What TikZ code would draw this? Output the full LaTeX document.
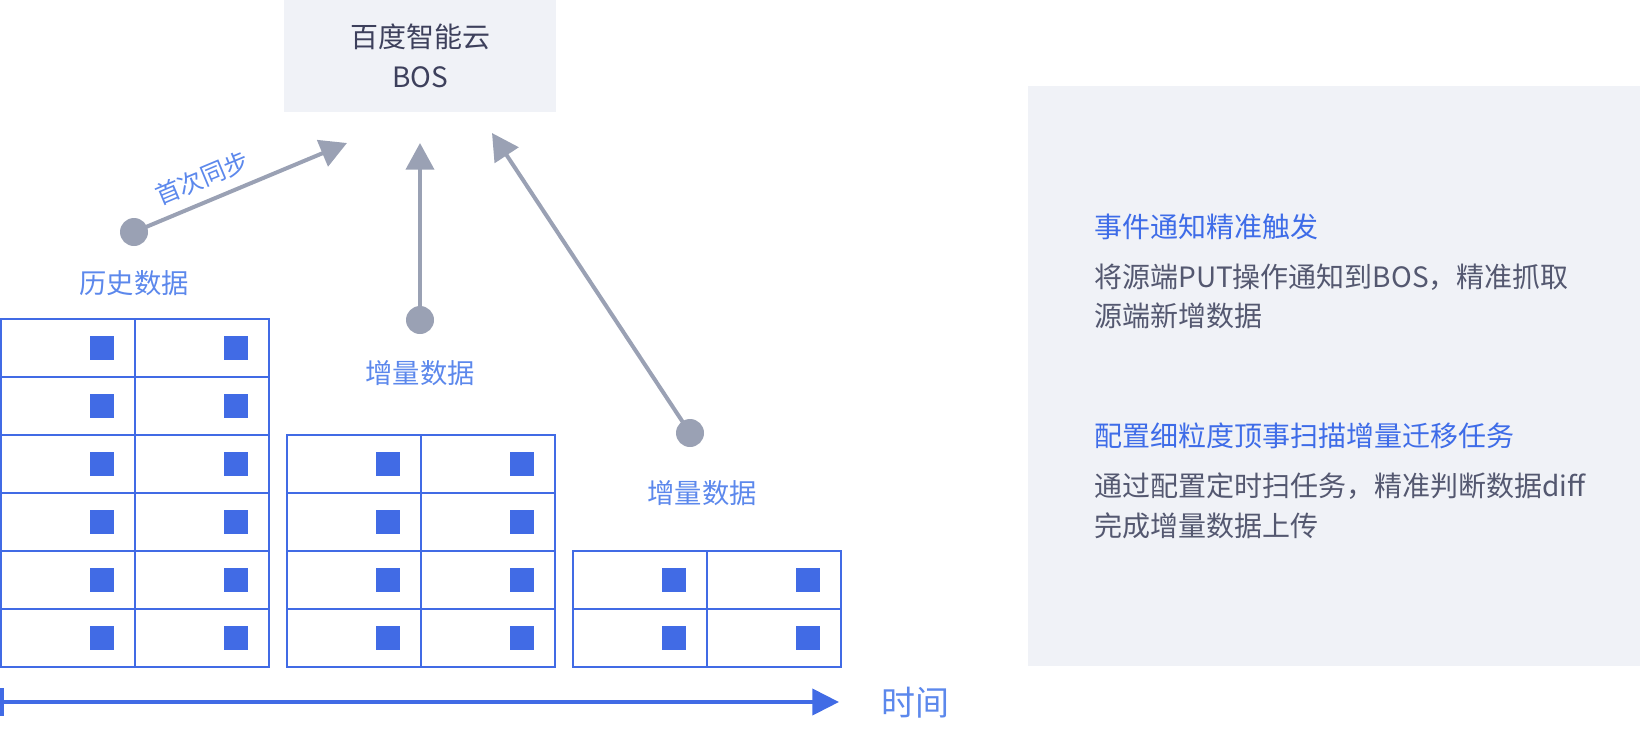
\documentclass[tikz,border=0pt]{standalone}
\usepackage{fontspec}
\setmainfont{Noto Sans CJK SC}
\usetikzlibrary{arrows.meta}
\definecolor{boxfill}{RGB}{240,242,247}
\definecolor{darktext}{RGB}{61,64,92}
\definecolor{arrowgray}{RGB}{154,161,180}
\definecolor{gridblue}{RGB}{65,107,229}
\definecolor{labelblue}{RGB}{92,136,236}
\definecolor{titleblue}{RGB}{62,108,232}
\definecolor{bodygray}{RGB}{84,88,112}
\newcommand\mygrid[3]{%
  \draw[gridline] (#1,#2) rectangle ({#1+268},{#2+58*#3});
  \draw[gridline] ({#1+134},#2) -- ({#1+134},{#2+58*#3});
  \foreach \r in {1,...,#3}{%
    \ifnum\r<#3\relax
      \draw[gridline] (#1,{#2+58*\r}) -- ({#1+268},{#2+58*\r});
    \fi
  }
  \foreach \r in {0,...,\numexpr#3-1\relax}{%
    \foreach \c in {0,1}{%
      \fill[gridblue] ({#1+134*\c+89},{#2+58*\r+17}) rectangle ({#1+134*\c+113},{#2+58*\r+41});
    }
  }
}
\begin{document}
\begin{tikzpicture}[x=0.75pt,y=-0.75pt,
  gridline/.style={draw=gridblue,line width=1.5pt},
  dotnode/.style={circle,fill=arrowgray,minimum size=21pt,inner sep=0pt},
  arrowline/.style={draw=arrowgray,line width=3pt,-{Triangle[length=20pt,width=21pt]}},
  datalabel/.style={text=labelblue,font=\fontsize{20.5}{24}\selectfont,inner sep=0pt},
  paneltitle/.style={text=titleblue,font=\fontsize{21}{24}\selectfont,inner sep=0pt,anchor=west},
  panelbody/.style={text=bodygray,font=\fontsize{21}{24}\selectfont,inner sep=0pt,anchor=west}]
\useasboundingbox (0,0) rectangle (1640,732);
% cloud box
\node[fill=boxfill,minimum width=204pt,minimum height=84pt,inner sep=0pt,
      align=center,text=darktext,font=\fontsize{21}{30}\selectfont] (bos) at (420,56) {百度智能云\\BOS};
% grids
\mygrid{1}{319}{6}
\mygrid{287}{435}{4}
\mygrid{573}{551}{2}
% dots
\node[dotnode] (d1) at (134,232) {};
\node[dotnode] (d2) at (420,320) {};
\node[dotnode] (d3) at (690,433) {};
\coordinate (t1) at (347,143);
\coordinate (t2) at (420,143);
\coordinate (t3) at (492,133);
\draw[arrowline] (d1.center) -- (t1);
\draw[arrowline] (d2.center) -- (t2);
\draw[arrowline] (d3.center) -- (t3);
\node[text=labelblue,font=\fontsize{18.5}{20}\selectfont,inner sep=0pt,rotate=22.7] (sync) at (202,178) {首次同步};
% labels
\node[datalabel] (hist) at (134,283) {历史数据};
\node[datalabel] (inc1) at (420,373) {增量数据};
\node[datalabel] (inc2) at (702,493) {增量数据};
% timeline
\coordinate (tl0) at (2,702);
\coordinate (tl1) at (839,702);
\coordinate (tk0) at (2,688);
\coordinate (tk1) at (2,716);
\draw[gridblue,line width=3pt] (tk0) -- (tk1);
\draw[gridblue,line width=3pt,-{Triangle[length=20pt,width=19.5pt]}] (tl0) -- (tl1);
\node[text=labelblue,font=\fontsize{25.5}{28}\selectfont,inner sep=0pt] (time) at (915,703) {时间};
% right panel
\fill[boxfill] (1028,86) rectangle (1640,666);
\node[paneltitle] (p1t) at (1094,227) {事件通知精准触发};
\node[panelbody] (p1a) at (1094,277) {将源端PUT操作通知到BOS，精准抓取};
\node[panelbody] (p1b) at (1094,316) {源端新增数据};
\node[paneltitle] (p2t) at (1094,436) {配置细粒度顶事扫描增量迁移任务};
\node[panelbody] (p2a) at (1094,486) {通过配置定时扫任务，精准判断数据diff};
\node[panelbody] (p2b) at (1094,526) {完成增量数据上传};
\end{tikzpicture}
\end{document}
